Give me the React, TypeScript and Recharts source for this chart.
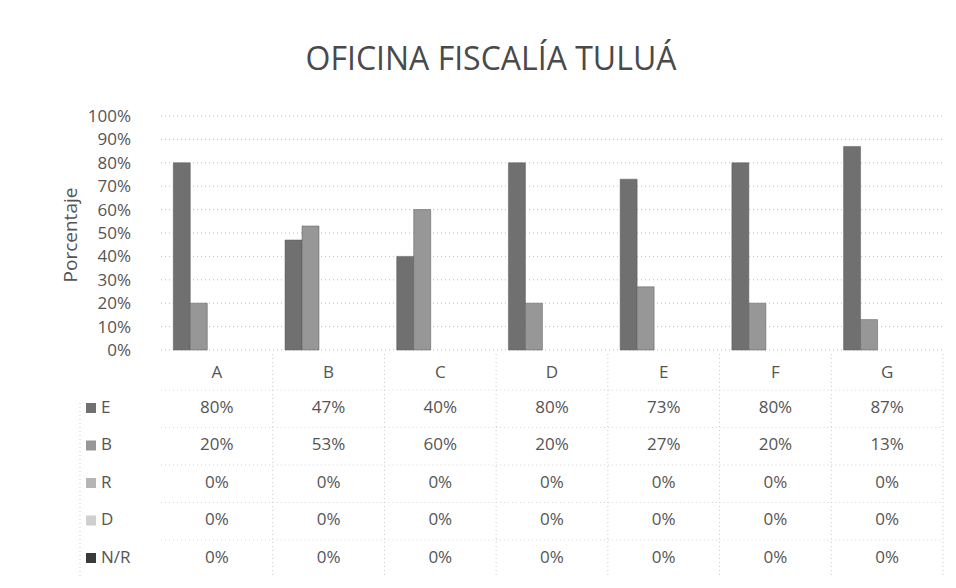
import React from 'react';
import { BarChart, Bar, XAxis, YAxis, CartesianGrid } from 'recharts';

// categories + series (percent)
const categories = ['A', 'B', 'C', 'D', 'E', 'F', 'G'];
const eValues = [80, 47, 40, 80, 73, 80, 87];
const bValues = [20, 53, 60, 20, 27, 20, 13];
const rValues = [0, 0, 0, 0, 0, 0, 0];
const dValues = [0, 0, 0, 0, 0, 0, 0];
const nrValues = [0, 0, 0, 0, 0, 0, 0];
const yTicks = [0, 10, 20, 30, 40, 50, 60, 70, 80, 90, 100];

const seriesNames = ['E', 'B', 'R', 'D', 'N/R'];
const seriesKeys = ['e', 'b', 'r', 'd', 'nr'];
const seriesColors = ['#707070', '#979797', '#b5b5b5', '#cfcfcf', '#3a3a3a'];

const chartData = categories.map((name, i) => ({
  name,
  e: eValues[i],
  b: bValues[i],
  r: rValues[i],
  d: dValues[i],
  nr: nrValues[i],
}));

const FONT = '"Open Sans", "DejaVu Sans", sans-serif';
const ROW_OFFSETS = [58, 95.5, 133, 170.5, 208];
const BAND = 111.7;

// x-axis tick doubles as a column of the data table
function TableTick(props: any) {
  const { x, y, payload, index } = props;
  const row = chartData[index];
  if (!row) return null;
  return (
    <g>
      <text x={x} y={y + 23} textAnchor="middle" dominantBaseline="middle"
        fontFamily={FONT} fontSize={17} fill="#555">{payload.value}</text>
      {seriesKeys.map((k, j) => (
        <text key={k} x={x} y={y + ROW_OFFSETS[j]} textAnchor="middle" dominantBaseline="middle"
          fontFamily={FONT} fontSize={17} fill="#555">{(row as any)[k]}%</text>
      ))}
      <line x1={x + BAND / 2} x2={x + BAND / 2} y1={y + 4} y2={y + 228}
        stroke="#c8c8c8" strokeDasharray="1 3" />
      {ROW_OFFSETS.map((o, j) => (
        <line key={j} x1={x - BAND / 2} x2={x + BAND / 2} y1={y + o - 18} y2={y + o - 18}
          stroke="#d4d4d4" strokeDasharray="1 3" />
      ))}
    </g>
  );
}

export default function App() {
  return (
    <div style={{ position: 'relative', width: 940, height: 572, background: '#fff' }}>
      <BarChart width={940} height={572} data={chartData}
        margin={{ top: 108, right: 5, bottom: 0, left: 40 }}
        barCategoryGap="11%" barGap={0}>
        <CartesianGrid vertical={false} stroke="#bdbdbd" strokeDasharray="1 3" />
        <XAxis dataKey="name" axisLine={false} tickLine={false} tickSize={0} tickMargin={0}
          height={230} interval={0} tick={<TableTick />} />
        <YAxis domain={[0, 100]} ticks={yTicks} interval={0} width={113} axisLine={false} tickLine={false}
          tickMargin={24} tickFormatter={(v: number) => `${v}%`}
          tick={{ fontFamily: FONT, fontSize: 17, fill: '#555' }} />
        {seriesKeys.map((k, j) => (
          <Bar key={k} dataKey={k} name={seriesNames[j]} fill={seriesColors[j]}
            stroke="#5a5a5a" strokeWidth={0.5} isAnimationActive={false} />
        ))}
      </BarChart>
      <svg width={940} height={572} style={{ position: 'absolute', left: 0, top: 0, pointerEvents: 'none' }}>
        <text x={483} y={53} textAnchor="middle" dominantBaseline="middle"
          fontFamily={FONT} fontSize={32} fill="#4a4a4a">OFICINA FISCALÍA TULUÁ</text>
        <text x={64} y={227} textAnchor="middle" dominantBaseline="middle"
          transform="rotate(-90 64 227)" fontFamily={FONT} fontSize={19} fill="#555">Porcentaje</text>
        {seriesNames.map((n, j) => (
          <g key={n}>
            <rect x={78} y={342 + ROW_OFFSETS[j] - 5} width={10} height={10} fill={seriesColors[j]} />
            <text x={93} y={342 + ROW_OFFSETS[j]} dominantBaseline="middle"
              fontFamily={FONT} fontSize={17} fill="#555">{n}</text>
          </g>
        ))}
        <line x1={72} x2={72} y1={395} y2={570} stroke="#d0d0d0" strokeDasharray="1 3" />
      </svg>
    </div>
  );
}
